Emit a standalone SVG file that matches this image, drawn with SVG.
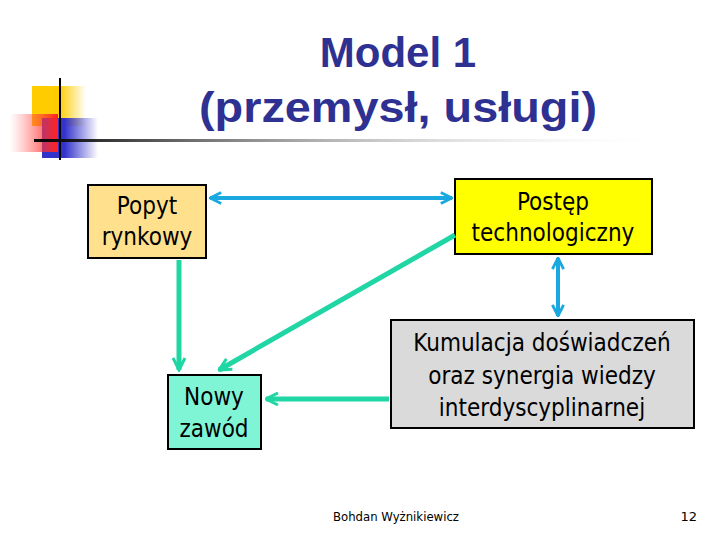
<svg xmlns="http://www.w3.org/2000/svg" width="720" height="540" viewBox="0 0 720 540">
<defs>
<linearGradient id="lg" x1="0" x2="1"><stop offset="0" stop-color="#000"/><stop offset="1" stop-color="#fff" stop-opacity="0"/></linearGradient>
<linearGradient id="yg" x1="0" x2="1"><stop offset="0.5" stop-color="#ffcc00"/><stop offset="1" stop-color="#ffcc00" stop-opacity="0"/></linearGradient>
<linearGradient id="bg" x1="0" x2="1"><stop offset="0.4" stop-color="#3333cc"/><stop offset="1" stop-color="#3333cc" stop-opacity="0"/></linearGradient>
<linearGradient id="rg" x1="1" x2="0"><stop offset="0" stop-color="#ff2020"/><stop offset="1" stop-color="#ff6060" stop-opacity="0"/></linearGradient>
<marker id="bh" viewBox="0 0 10 10" refX="9" refY="5" markerWidth="3.5" markerHeight="3.5" orient="auto-start-reverse"><path d="M1,1 L9,5 L1,9" fill="none" stroke="#1aa8e0" stroke-width="2"/></marker>
<marker id="gh" viewBox="0 0 10 10" refX="9" refY="5" markerWidth="3" markerHeight="3" orient="auto"><path d="M1,1 L9,5 L1,9" fill="none" stroke="#1fd6a4" stroke-width="2"/></marker>
</defs>
<style>
.box{stroke:#000;stroke-width:2}
.t{font-family:"DejaVu Sans Condensed","DejaVu Sans",sans-serif;font-size:24px;text-anchor:middle;fill:#000}
.ti{font-family:"Liberation Sans",Arial,sans-serif;font-weight:bold;font-size:42px;text-anchor:middle;fill:#2e3192}
.b{stroke:#1aa8e0;stroke-width:4;fill:none}
.g{stroke:#1fd6a4;stroke-width:5;fill:none}
</style>
<g id="logo">
<rect x="32" y="86" width="54" height="40" fill="url(#yg)"/>
<rect x="42" y="118" width="56" height="40" fill="url(#bg)"/>
<rect x="10" y="114" width="48" height="38" fill="url(#rg)"/>
<rect x="59" y="78" width="2" height="82" fill="#000"/>
<rect x="34" y="139" width="640" height="3" fill="url(#lg)"/>
</g>
<text class="ti" x="398" y="67">Model 1</text>
<text class="ti" x="398" y="122" textLength="398" lengthAdjust="spacingAndGlyphs">(przemysł, usługi)</text>
<g id="popyt"><rect class="box" x="88" y="185" width="118" height="73" fill="#ffe08c"/>
<text class="t" x="147" y="214">Popyt</text><text class="t" x="147" y="245">rynkowy</text></g>
<g id="postep"><rect class="box" x="455" y="179" width="197" height="75" fill="#ffff00"/>
<text class="t" x="553" y="210">Postęp</text><text class="t" x="553" y="241">technologiczny</text></g>
<g id="nowy"><rect class="box" x="168" y="375" width="93" height="74" fill="#7ff5d6"/>
<text class="t" x="214" y="405">Nowy</text><text class="t" x="214" y="437">zawód</text></g>
<g id="kumulacja"><rect class="box" x="391" y="320" width="303" height="108" fill="#dadada"/>
<text class="t" x="542" y="351">Kumulacja doświadczeń</text><text class="t" x="542" y="384">oraz synergia wiedzy</text><text class="t" x="542" y="416">interdyscyplinarnej</text></g>
<g id="connectors">
<line class="b" x1="210" y1="198" x2="452" y2="198" marker-start="url(#bh)" marker-end="url(#bh)"/>
<line class="b" x1="558" y1="258" x2="558" y2="316" marker-start="url(#bh)" marker-end="url(#bh)"/>
<line class="g" x1="179" y1="260" x2="179" y2="370" marker-end="url(#gh)"/>
<line class="g" x1="455" y1="235" x2="219" y2="370" marker-end="url(#gh)"/>
<line class="g" x1="389" y1="399" x2="266" y2="399" marker-end="url(#gh)"/>
</g>
<text x="396" y="521" style="font-family:'DejaVu Sans Condensed','DejaVu Sans',sans-serif;font-size:13px;text-anchor:middle">Bohdan Wyżnikiewicz</text>
<text x="697" y="521" style="font-family:'DejaVu Sans',sans-serif;font-size:13px;text-anchor:end">12</text>
</svg>
